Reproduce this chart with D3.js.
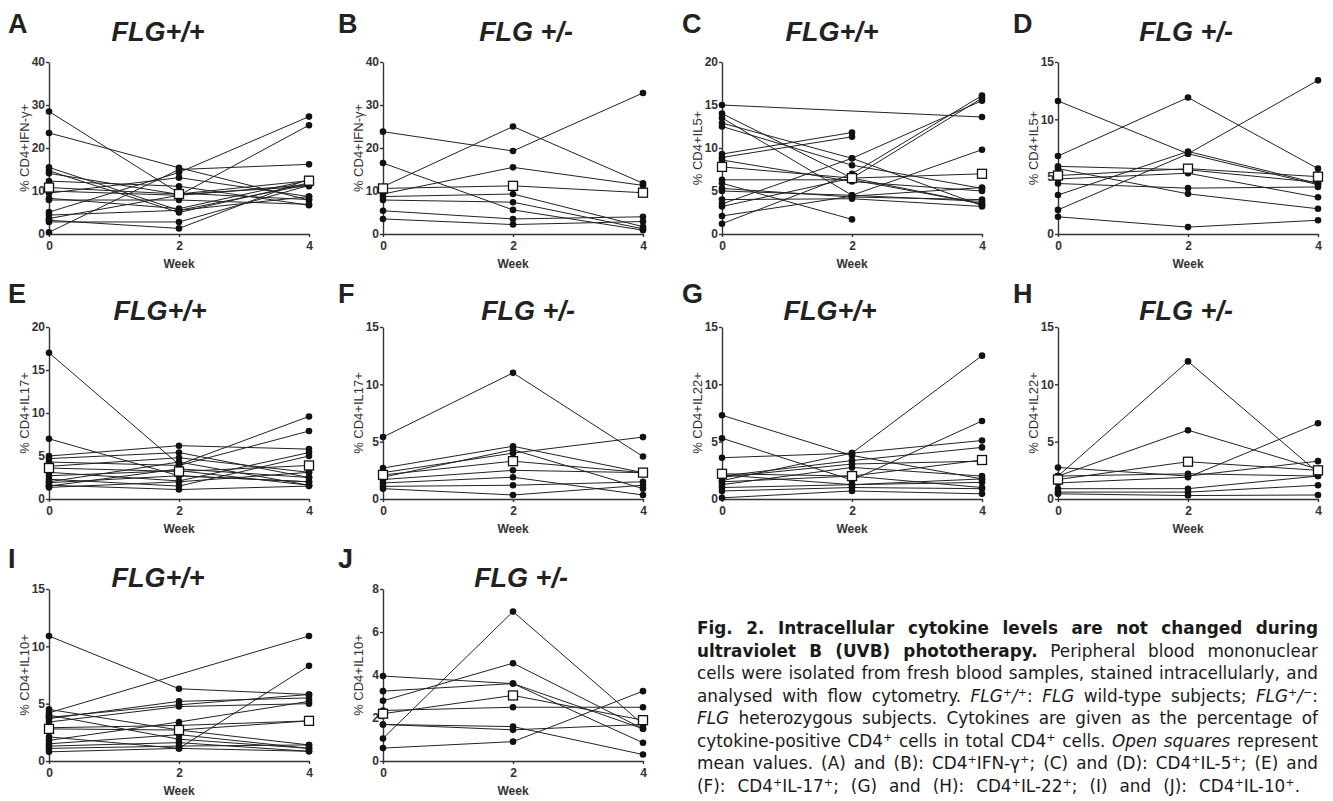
<!DOCTYPE html>
<html>
<head>
<meta charset="utf-8">
<script src="https://cdn.jsdelivr.net/npm/d3@7"></script>
<style>
  body { margin: 0; background: #fff; }
  svg { display: block; }
</style>
</head>
<body>
<svg width="1333" height="801"></svg>
<script>
const weeks = [0, 2, 4];

// one row per subject: values at week 0, 2, 4 (null = not measured)
const ifnWt = [
  [28.5, 9.5, 8.0], [23.5, 15.4, 7.9], [15.5, 5.5, 8.7], [14.7, 5.0, 11.9],
  [14.1, 9.2, 11.1], [12.3, 11.1, 6.7], [10.0, 9.0, 11.5], [9.5, 13.1, 8.7],
  [8.3, 5.9, 12.5], [7.9, 7.9, 6.9], [5.1, 14.3, 27.3], [4.4, 5.5, 11.5],
  [3.6, 9.0, 25.3], [2.8, 2.8, 11.3], [3.2, 1.3, 12.8], [0.4, 15.0, 16.2]
];
const ifnWtMean = [10.8, 9.3, 12.4];

const ifnHet = [
  [23.8, 19.3, 32.8], [11.0, 25.0, 11.8], [16.5, 5.6, 0.9], [9.3, 15.5, 11.3],
  [8.7, 9.3, 1.7], [7.9, 7.4, 1.2], [5.4, 3.5, 4.0], [3.5, 2.2, 2.9]
];
const ifnHetMean = [10.6, 11.2, 9.6];

const il5Wt = [
  [15.0, null, 13.6], [14.0, 6.5, 3.5], [13.5, 4.5, 3.8], [12.9, 8.8, 3.3],
  [12.5, 8.0, 5.3], [9.3, 11.8, null], [8.9, 11.3, null], [8.6, 6.1, 5.0],
  [6.3, 6.3, 3.5], [5.9, 1.7, null], [5.3, 4.3, 4.0], [5.0, 4.5, 9.8],
  [4.0, 4.1, 3.2], [3.5, 8.8, 15.5], [3.2, 6.5, 15.8], [2.1, 4.4, 5.4],
  [1.2, 7.0, 16.1]
];
const il5WtMean = [7.8, 6.5, 7.0];

const il5Het = [
  [11.6, 7.0, 4.3], [6.8, 11.9, 5.7], [5.9, 5.6, 4.5], [5.7, 3.5, 2.2],
  [4.8, 5.3, 3.2], [4.4, 4.0, 4.1], [3.4, 7.2, 4.4], [2.1, 7.0, 13.4],
  [1.5, 0.6, 1.2]
];
const il5HetMean = [5.1, 5.7, 5.0];

const il17Wt = [
  [17.0, 4.0, 9.6], [7.0, 2.7, 2.0], [5.0, 6.2, 5.8], [4.7, 5.4, 2.5],
  [4.3, 3.9, 7.9], [3.8, 4.8, 3.1], [3.1, 2.1, 5.4], [2.7, 3.3, 1.6],
  [2.3, 1.5, 5.0], [1.9, 2.7, 2.0], [1.6, 1.1, 1.5], [1.35, 2.0, 3.1],
  [2.0, 4.3, 1.6], [1.5, 3.5, 2.5]
];
const il17WtMean = [3.6, 3.2, 3.9];

const il17Het = [
  [5.4, 11.0, 3.7], [2.7, 4.6, 2.3], [2.3, 4.0, 5.4], [1.7, 2.5, 2.3],
  [1.4, 1.9, 0.35], [1.1, 1.2, 1.5], [0.9, 0.35, 1.2], [1.9, 4.3, 0.9]
];
const il17HetMean = [2.1, 3.3, 2.3];

const il22Wt = [
  [7.3, 3.8, 1.75], [1.6, 4.0, 12.5], [5.3, 1.65, 6.8], [3.6, 4.0, 5.1],
  [2.0, 3.35, 4.5], [1.9, 3.05, 3.3], [1.25, 2.75, 2.0], [1.0, 1.25, 1.45],
  [0.7, 1.0, 0.9], [0.1, 0.7, 0.45], [2.1, 1.25, 1.75], [1.5, 2.0, 1.0]
];
const il22WtMean = [2.2, 2.0, 3.4];

const il22Het = [
  [2.0, 12.0, 2.3], [2.0, 6.0, 2.6], [2.75, 2.0, 3.3], [1.4, 1.9, 6.6],
  [0.9, 0.9, 2.0], [0.6, 0.6, 1.2], [0.45, 0.3, 0.35], [2.0, 2.2, 2.0]
];
const il22HetMean = [1.7, 3.25, 2.5];

const il10Wt = [
  [10.9, 6.3, 5.8], [4.2, null, 10.9], [4.5, 2.7, 1.4], [4.0, 1.9, 1.1],
  [3.7, 5.2, 5.5], [3.4, 4.75, 5.0], [2.9, 3.1, 3.5], [2.1, 1.1, 8.3],
  [1.8, 3.4, 5.2], [1.5, 2.3, 1.1], [1.3, 1.6, 0.85], [1.1, 1.3, 1.4],
  [0.8, 1.1, 0.85], [3.8, 4.9, 5.8]
];
const il10WtMean = [2.8, 2.7, 3.5];

const il10Het = [
  [1.05, 6.95, 1.7], [2.8, 4.55, 1.5], [3.95, 3.6, 0.85], [2.35, 2.5, 2.5],
  [1.7, 1.45, 1.7], [1.7, 1.6, 0.3], [0.6, 0.9, 3.25], [3.25, 3.6, 1.5]
];
const il10HetMean = [2.2, 3.05, 1.9];

const ticks40 = [0, 10, 20, 30, 40];
const ticks20 = [0, 5, 10, 15, 20];
const ticks15 = [0, 5, 10, 15];
const ticks8 = [0, 2, 4, 6, 8];

const panels = [
  { letter: 'A', title: 'FLG+/+', ylabel: '% CD4+IFN-\u03b3+', ticks: ticks40, subjects: ifnWt, mean: ifnWtMean },
  { letter: 'B', title: 'FLG +/-', ylabel: '% CD4+IFN-\u03b3+', ticks: ticks40, subjects: ifnHet, mean: ifnHetMean },
  { letter: 'C', title: 'FLG+/+', ylabel: '% CD4+IL5+', ticks: ticks20, subjects: il5Wt, mean: il5WtMean },
  { letter: 'D', title: 'FLG +/-', ylabel: '% CD4+IL5+', ticks: ticks15, subjects: il5Het, mean: il5HetMean },
  { letter: 'E', title: 'FLG+/+', ylabel: '% CD4+IL17+', ticks: ticks20, subjects: il17Wt, mean: il17WtMean },
  { letter: 'F', title: 'FLG +/-', ylabel: '% CD4+IL17+', ticks: ticks15, subjects: il17Het, mean: il17HetMean },
  { letter: 'G', title: 'FLG+/+', ylabel: '% CD4+IL22+', ticks: ticks15, subjects: il22Wt, mean: il22WtMean },
  { letter: 'H', title: 'FLG +/-', ylabel: '% CD4+IL22+', ticks: ticks15, subjects: il22Het, mean: il22HetMean },
  { letter: 'I', title: 'FLG+/+', ylabel: '% CD4+IL10+', ticks: ticks15, subjects: il10Wt, mean: il10WtMean },
  { letter: 'J', title: 'FLG +/-', ylabel: '% CD4+IL10+', ticks: ticks8, subjects: il10Het, mean: il10HetMean }
];

// layout
const colX = [49, 383, 722, 1058];
const colLetterX = [8, 338, 682, 1013];
const rowTop = [62, 327, 589];
const rowTitleY = [41, 320, 587];
const rowLetterY = [33, 303, 568];
const titleDx = [109, 143, 110, 128, 111, 145, 108, 128, 109, 138];
const plotW = 260;
const plotH = 172;

const ink = '#333';
const font = 'Arial, "Liberation Sans", sans-serif';

const svg = d3.select('svg');

panels.forEach((p, i) => {
  const col = i % 4;
  const row = Math.floor(i / 4);
  const x0 = colX[col];
  const y0 = rowTop[row];

  const x = d3.scaleLinear().domain([0, 4]).range([0, plotW]);
  const y = d3.scaleLinear().domain([0, d3.max(p.ticks)]).range([plotH, 0]);

  const g = svg.append('g')
      .attr('transform', `translate(${x0}, ${y0})`);

  // panel letter and title
  svg.append('text')
      .attr('x', colLetterX[col])
      .attr('y', rowLetterY[row])
      .attr('font-family', font)
      .attr('font-weight', 'bold')
      .attr('font-size', 27)
      .attr('fill', '#222')
      .text(p.letter);

  svg.append('text')
      .attr('x', x0 + titleDx[i])
      .attr('y', rowTitleY[row])
      .attr('text-anchor', 'middle')
      .attr('font-family', font)
      .attr('font-weight', 'bold')
      .attr('font-style', 'italic')
      .attr('font-size', 27)
      .attr('fill', '#222')
      .text(p.title);

  // axes
  const yAxis = g.append('g')
      .call(d3.axisLeft(y).tickValues(p.ticks).tickSize(3).tickSizeOuter(0).tickPadding(1));
  const xAxis = g.append('g')
      .attr('transform', `translate(0, ${plotH})`)
      .call(d3.axisBottom(x).tickValues(weeks).tickFormat(d3.format('d'))
        .tickSize(3).tickSizeOuter(0).tickPadding(4));

  [yAxis, xAxis].forEach(a => {
    a.selectAll('path, line').attr('stroke', ink).attr('stroke-width', 1.4);
    a.selectAll('text')
        .attr('font-family', font)
        .attr('font-weight', 'bold')
        .attr('font-size', 12)
        .attr('fill', ink);
  });

  g.append('text')
      .attr('x', plotW / 2)
      .attr('y', plotH + 34)
      .attr('text-anchor', 'middle')
      .attr('font-family', font)
      .attr('font-weight', 'bold')
      .attr('font-size', 12)
      .attr('fill', ink)
      .text('Week');

  g.append('text')
      .attr('transform', `translate(-20, ${plotH / 2}) rotate(-90)`)
      .attr('text-anchor', 'middle')
      .attr('font-family', font)
      .attr('font-size', 13)
      .attr('fill', ink)
      .text(p.ylabel);

  // subjects
  const line = d3.line()
      .x(d => x(d.w))
      .y(d => y(d.v));

  const series = p.subjects.map(s =>
    s.map((v, k) => ({ w: weeks[k], v })).filter(d => d.v != null));

  g.append('g')
    .selectAll('path')
    .data(series)
    .join('path')
      .attr('d', line)
      .attr('fill', 'none')
      .attr('stroke', '#222')
      .attr('stroke-width', 1);

  g.append('g')
    .selectAll('circle')
    .data(series.flat())
    .join('circle')
      .attr('cx', d => x(d.w))
      .attr('cy', d => y(d.v))
      .attr('r', 3.3)
      .attr('fill', '#111');

  // mean
  const meanSeries = p.mean.map((v, k) => ({ w: weeks[k], v }));
  g.append('path')
      .attr('d', line(meanSeries))
      .attr('fill', 'none')
      .attr('stroke', '#222')
      .attr('stroke-width', 1);

  g.append('g')
    .selectAll('rect')
    .data(meanSeries)
    .join('rect')
      .attr('x', d => x(d.w) - 4.5)
      .attr('y', d => y(d.v) - 4.5)
      .attr('width', 9)
      .attr('height', 9)
      .attr('fill', '#fff')
      .attr('stroke', '#111')
      .attr('stroke-width', 1.3);
});

// caption: one text per line, justified by widening the word gaps
const captionLines = [
  [['Fig. 2. Intracellular cytokine levels are not changed during', 'b']],
  [['ultraviolet B (UVB) phototherapy.', 'b'], [' Peripheral blood mononuclear', '']],
  [['cells were isolated from fresh blood samples, stained intracellularly, and', '']],
  [['analysed with flow cytometry. ', ''], ['FLG', 'i'], ['+', 's'], ['/', 'i'], ['+', 's'], [': ', ''],
   ['FLG', 'i'], [' wild-type subjects; ', ''], ['FLG', 'i'], ['+', 's'], ['/', 'i'], ['\u2212', 's'], [':', '']],
  [['FLG', 'i'], [' heterozygous subjects. Cytokines are given as the percentage of', '']],
  [['cytokine-positive CD4', ''], ['+', 's'], [' cells in total CD4', ''], ['+', 's'], [' cells. ', ''],
   ['Open squares', 'i'], [' represent', '']],
  [['mean values. (A) and (B): CD4', ''], ['+', 's'], ['IFN-\u03b3', ''], ['+', 's'], ['; (C) and (D): CD4', ''],
   ['+', 's'], ['IL-5', ''], ['+', 's'], ['; (E) and', '']],
  [['(F): CD4', ''], ['+', 's'], ['IL-17', ''], ['+', 's'], ['; (G) and (H): CD4', ''], ['+', 's'], ['IL-22', ''],
   ['+', 's'], ['; (I) and (J): CD4', ''], ['+', 's'], ['IL-10', ''], ['+', 's'], ['.', '']]
];
const captionWidths = [621, 621, 621, 621, 621, 621, 621, 603];

const capX = 697;
const capY = 634;
const capLead = 22.5;
const capFont = '"DejaVu Sans", Verdana, sans-serif';

function captionText(parts, i, size) {
  const t = svg.append('text')
      .attr('x', capX)
      .attr('y', capY + i * capLead)
      .attr('font-family', capFont)
      .attr('font-size', size)
      .attr('fill', '#1a1a1a')
      .attr('xml:space', 'preserve');
  parts.forEach(([txt, st]) => {
    const ts = t.append('tspan').text(txt);
    if (st === 'b') ts.attr('font-weight', 'bold');
    if (st === 'i') ts.attr('font-style', 'italic');
    if (st === 's') ts.attr('baseline-shift', 'super').attr('font-size', size * 0.66);
  });
  return t;
}

// size the font so the third line (no forced gaps) almost fills the column
const probe = captionText(captionLines[2], 2, 15);
const capSize = 15 * 612 / probe.node().getComputedTextLength();
probe.remove();

captionLines.forEach((parts, i) => {
  const t = captionText(parts, i, capSize);
  const gaps = parts.map(d => d[0]).join('').split(' ').length - 1;
  const natural = t.node().getComputedTextLength();
  const extra = (captionWidths[i] - natural) / gaps;
  if (extra > 0) {
    t.attr('word-spacing', extra);
  } else {
    t.attr('textLength', captionWidths[i]).attr('lengthAdjust', 'spacingAndGlyphs');
  }
});
</script>
</body>
</html>
